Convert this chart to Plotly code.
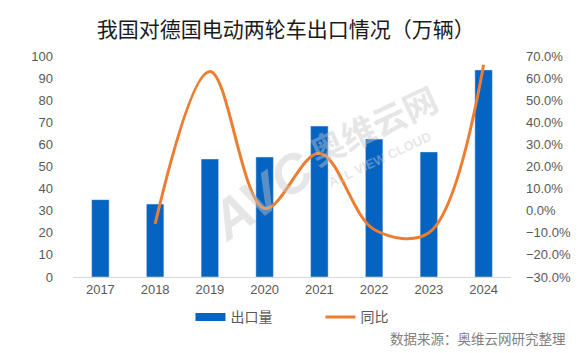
import plotly.graph_objects as go

years = ["2017", "2018", "2019", "2020", "2021", "2022", "2023", "2024"]
export_vol = [35.0, 33.0, 53.4, 54.3, 68.3, 62.4, 56.6, 93.7]
yoy = [None, -6.0, 63.0, 1.0, 26.0, -8.5, -10.0, 66.0]
left_ticks = list(range(0, 101, 10))
right_ticks = list(range(-30, 71, 10))
right_labels = [f"{v}.0%" if v >= 0 else f"\u2212{abs(v)}.0%" for v in right_ticks]

BLUE = "#0563C1"
ORANGE = "#ED7D31"
GRAY = "#595959"
TICKFONT = dict(family="Liberation Sans, Arial, sans-serif", size=13, color=GRAY)
CJK = "Noto Sans CJK SC, sans-serif"
WM = "rgba(200,200,200,0.45)"

fig = go.Figure()
fig.add_trace(go.Bar(x=years, y=export_vol, marker_color=BLUE, name="出口量",
                     showlegend=False, yaxis="y"))
fig.add_trace(go.Scatter(x=years, y=yoy, mode="lines", name="同比",
                         line=dict(color=ORANGE, width=3, shape="spline", smoothing=1.0),
                         yaxis="y2", showlegend=False, connectgaps=False))
# legend proxies
fig.add_trace(go.Scatter(x=[None], y=[None], mode="lines", name="出口量",
                         line=dict(color=BLUE, width=8)))
fig.add_trace(go.Scatter(x=[None], y=[None], mode="lines", name="同比",
                         line=dict(color=ORANGE, width=3)))

fig.update_layout(
    width=583, height=353,
    margin=dict(l=73, r=62, t=56, b=76),
    paper_bgcolor="white", plot_bgcolor="white",
    bargap=0.68,
    title=dict(text="我国对德国电动两轮车出口情况（万辆）", x=0.49, xanchor="center",
               y=0.915, yanchor="middle",
               font=dict(family=CJK, size=21, color="#1a1a1a")),
    xaxis=dict(showgrid=False, showline=True, linecolor="#d9d9d9", linewidth=1,
               ticks="", tickfont=TICKFONT, zeroline=False),
    yaxis=dict(range=[0, 100], tickvals=left_ticks, showgrid=False, zeroline=False,
               showline=False, tickfont=TICKFONT, ticklabelstandoff=19),
    yaxis2=dict(range=[-30, 70], tickvals=right_ticks, ticktext=right_labels,
                overlaying="y", side="right", showgrid=False, zeroline=False,
                showline=False, tickfont=TICKFONT, ticklabelstandoff=14),
    legend=dict(orientation="h", x=0.565, xanchor="center", y=-0.11, yanchor="top",
                font=dict(family=CJK, size=14, color=GRAY),
                entrywidth=85, itemwidth=30),
)

# watermark
fig.add_annotation(text="<b><i>AVC</i></b>", xref="paper", yref="paper", x=0.43, y=0.37,
                   xanchor="center", yanchor="middle",
                   showarrow=False, textangle=-35,
                   font=dict(family="Liberation Sans", size=54, color=WM))
fig.add_annotation(text="<b>奥维云网</b>", xref="paper", yref="paper", x=0.685, y=0.69,
                   xanchor="center", yanchor="middle",
                   showarrow=False, textangle=-25,
                   font=dict(family=CJK, size=34, color=WM))
fig.add_annotation(text="<b>ALL VIEW CLOUD</b>", xref="paper", yref="paper", x=0.70, y=0.53,
                   xanchor="center", yanchor="middle",
                   showarrow=False, textangle=-25,
                   font=dict(family="Liberation Sans", size=13, color=WM))

fig.add_annotation(text="数据来源：奥维云网研究整理", xref="paper", yref="paper",
                   x=1.13, y=-0.275, xanchor="right", yanchor="middle", showarrow=False,
                   font=dict(family=CJK, size=13.5, color="#7f7f7f"))

fig.write_html("out.html")
